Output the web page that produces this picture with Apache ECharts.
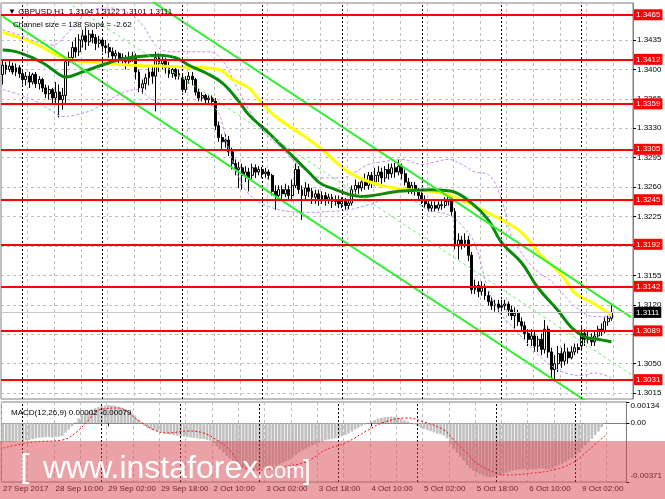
<!DOCTYPE html>
<html><head><meta charset="utf-8">
<script src="https://cdn.jsdelivr.net/npm/echarts@6/dist/echarts.min.js"></script>
<style>html,body{margin:0;padding:0;background:#fff}#c{width:665px;height:499px}</style>
</head><body><div id="c"></div>
<script>
// [open, close, low, high], hourly bars from 27 Sep 2017 18:00
const candles = [
[1.3394,1.3405,1.3382,1.3411],[1.3405,1.3400,1.3394,1.3409],[1.3400,1.3404,1.3397,1.3411],[1.3404,1.3397,1.3394,1.3408],
[1.3397,1.3402,1.3392,1.3407],[1.3402,1.3395,1.3390,1.3405],[1.3395,1.3388,1.3382,1.3400],[1.3388,1.3392,1.3381,1.3397],
[1.3392,1.3385,1.3378,1.3397],[1.3385,1.3394,1.3382,1.3396],[1.3394,1.3383,1.3378,1.3397],[1.3383,1.3388,1.3376,1.3392],
[1.3388,1.3378,1.3373,1.3390],[1.3378,1.3371,1.3366,1.3382],[1.3371,1.3376,1.3364,1.3381],[1.3376,1.3366,1.3360,1.3378],
[1.3366,1.3373,1.3358,1.3385],[1.3373,1.3364,1.3343,1.3382],[1.3364,1.3369,1.3352,1.3378],[1.3369,1.3409,1.3360,1.3414],
[1.3409,1.3414,1.3404,1.3421],[1.3414,1.3426,1.3409,1.3433],[1.3426,1.3421,1.3414,1.3438],[1.3421,1.3435,1.3416,1.3442],
[1.3435,1.3440,1.3426,1.3447],[1.3440,1.3433,1.3423,1.3450],[1.3433,1.3442,1.3428,1.3447],[1.3442,1.3438,1.3431,1.3447],
[1.3438,1.3431,1.3423,1.3442],[1.3431,1.3435,1.3426,1.3440],[1.3435,1.3428,1.3421,1.3438],[1.3428,1.3426,1.3419,1.3435],
[1.3426,1.3421,1.3414,1.3431],[1.3421,1.3416,1.3411,1.3426],[1.3416,1.3419,1.3409,1.3423],[1.3419,1.3411,1.3407,1.3421],
[1.3411,1.3414,1.3404,1.3419],[1.3414,1.3409,1.3400,1.3417],[1.3409,1.3414,1.3404,1.3421],[1.3414,1.3416,1.3409,1.3421],
[1.3416,1.3397,1.3388,1.3419],[1.3397,1.3378,1.3373,1.3400],[1.3378,1.3383,1.3371,1.3388],[1.3383,1.3390,1.3376,1.3395],
[1.3390,1.3397,1.3381,1.3402],[1.3397,1.3392,1.3383,1.3404],[1.3392,1.3414,1.3350,1.3421],[1.3414,1.3407,1.3397,1.3419],
[1.3407,1.3411,1.3400,1.3416],[1.3411,1.3402,1.3395,1.3414],[1.3402,1.3395,1.3390,1.3409],[1.3395,1.3400,1.3390,1.3404],
[1.3400,1.3392,1.3388,1.3402],[1.3392,1.3395,1.3388,1.3400],[1.3390,1.3376,1.3373,1.3394],[1.3376,1.3388,1.3372,1.3392],
[1.3388,1.3392,1.3383,1.3397],[1.3392,1.3388,1.3381,1.3397],[1.3388,1.3373,1.3369,1.3390],[1.3373,1.3366,1.3362,1.3378],
[1.3366,1.3369,1.3362,1.3373],[1.3369,1.3364,1.3359,1.3371],[1.3364,1.3366,1.3360,1.3370],[1.3366,1.3362,1.3357,1.3369],
[1.3362,1.3333,1.3328,1.3366],[1.3333,1.3319,1.3314,1.3338],[1.3319,1.3314,1.3305,1.3323],[1.3314,1.3316,1.3307,1.3323],
[1.3316,1.3302,1.3297,1.3321],[1.3302,1.3288,1.3281,1.3307],[1.3288,1.3281,1.3274,1.3293],[1.3281,1.3283,1.3259,1.3290],
[1.3283,1.3274,1.3257,1.3288],[1.3274,1.3278,1.3266,1.3285],[1.3278,1.3271,1.3255,1.3283],[1.3274,1.3283,1.3269,1.3288],
[1.3283,1.3278,1.3271,1.3287],[1.3278,1.3281,1.3274,1.3285],[1.3281,1.3276,1.3271,1.3284],[1.3276,1.3278,1.3271,1.3283],
[1.3278,1.3274,1.3269,1.3281],[1.3274,1.3255,1.3250,1.3276],[1.3255,1.3250,1.3233,1.3262],[1.3250,1.3257,1.3248,1.3262],
[1.3257,1.3252,1.3245,1.3262],[1.3252,1.3257,1.3248,1.3264],[1.3257,1.3250,1.3245,1.3262],[1.3250,1.3262,1.3243,1.3269],
[1.3262,1.3281,1.3259,1.3288],[1.3281,1.3257,1.3252,1.3285],[1.3257,1.3250,1.3221,1.3262],[1.3250,1.3259,1.3245,1.3266],
[1.3259,1.3255,1.3248,1.3264],[1.3255,1.3248,1.3240,1.3259],[1.3248,1.3252,1.3240,1.3257],[1.3252,1.3245,1.3238,1.3257],
[1.3245,1.3250,1.3240,1.3255],[1.3250,1.3245,1.3238,1.3254],[1.3245,1.3248,1.3240,1.3252],[1.3248,1.3243,1.3235,1.3252],
[1.3243,1.3245,1.3238,1.3250],[1.3245,1.3240,1.3235,1.3250],[1.3240,1.3243,1.3235,1.3248],[1.3243,1.3238,1.3233,1.3247],
[1.3238,1.3241,1.3234,1.3245],[1.3241,1.3257,1.3238,1.3262],[1.3257,1.3262,1.3252,1.3269],[1.3262,1.3259,1.3252,1.3266],
[1.3259,1.3266,1.3255,1.3271],[1.3266,1.3262,1.3257,1.3276],[1.3262,1.3274,1.3257,1.3278],[1.3274,1.3266,1.3259,1.3278],
[1.3266,1.3274,1.3262,1.3283],[1.3274,1.3278,1.3266,1.3285],[1.3278,1.3271,1.3264,1.3283],[1.3271,1.3281,1.3266,1.3285],
[1.3281,1.3276,1.3269,1.3288],[1.3276,1.3283,1.3271,1.3288],[1.3283,1.3278,1.3271,1.3289],[1.3278,1.3285,1.3274,1.3293],
[1.3285,1.3276,1.3269,1.3288],[1.3276,1.3266,1.3262,1.3281],[1.3266,1.3257,1.3252,1.3271],[1.3257,1.3262,1.3252,1.3266],
[1.3262,1.3255,1.3250,1.3266],[1.3255,1.3250,1.3245,1.3259],[1.3250,1.3245,1.3240,1.3255],[1.3245,1.3240,1.3235,1.3250],
[1.3240,1.3235,1.3231,1.3245],[1.3235,1.3238,1.3231,1.3243],[1.3238,1.3235,1.3231,1.3243],[1.3235,1.3239,1.3232,1.3243],
[1.3239,1.3238,1.3233,1.3245],[1.3238,1.3243,1.3235,1.3248],[1.3243,1.3248,1.3238,1.3252],[1.3248,1.3231,1.3226,1.3250],
[1.3231,1.3190,1.3186,1.3235],[1.3190,1.3197,1.3174,1.3205],[1.3197,1.3193,1.3186,1.3202],[1.3193,1.3197,1.3188,1.3205],
[1.3197,1.3179,1.3172,1.3202],[1.3179,1.3138,1.3133,1.3183],[1.3138,1.3143,1.3133,1.3150],[1.3143,1.3136,1.3129,1.3148],
[1.3136,1.3140,1.3131,1.3148],[1.3140,1.3131,1.3126,1.3145],[1.3131,1.3124,1.3119,1.3136],[1.3124,1.3119,1.3114,1.3129],
[1.3119,1.3121,1.3112,1.3126],[1.3121,1.3117,1.3110,1.3126],[1.3117,1.3119,1.3112,1.3126],[1.3119,1.3121,1.3114,1.3126],
[1.3121,1.3114,1.3107,1.3124],[1.3114,1.3107,1.3102,1.3119],[1.3107,1.3110,1.3091,1.3117],[1.3110,1.3100,1.3095,1.3114],
[1.3100,1.3095,1.3088,1.3105],[1.3095,1.3086,1.3079,1.3100],[1.3086,1.3079,1.3071,1.3091],[1.3079,1.3083,1.3071,1.3091],
[1.3083,1.3071,1.3064,1.3088],[1.3071,1.3079,1.3064,1.3083],[1.3079,1.3067,1.3060,1.3086],[1.3067,1.3091,1.3062,1.3102],
[1.3091,1.3064,1.3057,1.3095],[1.3064,1.3043,1.3033,1.3069],[1.3043,1.3050,1.3029,1.3060],[1.3050,1.3062,1.3040,1.3071],
[1.3062,1.3053,1.3045,1.3069],[1.3053,1.3064,1.3048,1.3074],[1.3064,1.3057,1.3050,1.3069],[1.3057,1.3064,1.3055,1.3071],
[1.3064,1.3069,1.3060,1.3074],[1.3069,1.3067,1.3062,1.3074],[1.3071,1.3086,1.3067,1.3095],[1.3086,1.3079,1.3071,1.3091],
[1.3079,1.3081,1.3074,1.3088],[1.3081,1.3076,1.3071,1.3086],[1.3076,1.3083,1.3071,1.3088],[1.3083,1.3091,1.3081,1.3095],
[1.3091,1.3088,1.3083,1.3098],[1.3088,1.3100,1.3086,1.3105],[1.3100,1.3104,1.3095,1.3107],[1.3104,1.3111,1.3101,1.3122]
];
// moving averages, sampled [bar, price]
const yellowMA = [[0,1.3444],[9,1.3432],[19,1.3413],[29,1.3408],[39,1.3405],[54,1.3403],[65,1.3400],[69,1.3388],[74,1.3378],
 [77,1.3364],[82,1.3344],[89,1.3325],[95,1.3308],[104,1.3278],[113,1.3263],[122,1.3257],[132,1.3253],[141,1.3239],[150,1.3221],
 [156,1.3206],[162,1.3178],[168,1.3156],[172,1.3134],[177,1.3123],[183,1.3108]];
const greenMA = [[0,1.3423],[5,1.3420],[12,1.3408],[17,1.3394],[19,1.3391],[24,1.3397],[32,1.3408],[38,1.3414],[47,1.3417],
 [52,1.3414],[56,1.3405],[61,1.3396],[66,1.3384],[71,1.3362],[74,1.3346],[79,1.3328],[85,1.3305],[92,1.3278],[95,1.3266],
 [98,1.3260],[108,1.3249],[119,1.3255],[129,1.3257],[135,1.3255],[141,1.3241],[146,1.3221],[150,1.3194],[156,1.3170],
 [161,1.3140],[167,1.3113],[171,1.3093],[175,1.3082],[179,1.3079],[183,1.3076]];
// bands (violet dashed), sampled [bar, price]
const upperBand = [[0,1.3447],[5,1.3441],[10,1.3433],[15,1.3429],[19,1.3441],[23,1.3459],[27,1.3471],[32,1.3473],[37,1.3469],
 [42,1.3453],[46,1.3429],[50,1.3421],[56,1.3421],[62,1.3421],[66,1.3411],[70,1.3382],[74,1.3352],[78,1.3328],[84,1.3305],
 [90,1.3283],[96,1.3271],[102,1.3271],[106,1.3278],[110,1.3287],[114,1.3290],[120,1.3293],[126,1.3287],[130,1.3290],
 [134,1.3293],[138,1.3287],[142,1.3278],[146,1.3275],[150,1.3245],[153,1.3201],[157,1.3176],[161,1.3159],[165,1.3148],
 [170,1.3126],[174,1.3112],[178,1.3106],[183,1.3106]];
const lowerBand = [[0,1.3376],[5,1.3370],[10,1.3362],[15,1.3350],[18,1.3344],[22,1.3346],[27,1.3352],[35,1.3370],[40,1.3376],
 [45,1.3364],[50,1.3358],[55,1.3358],[60,1.3358],[64,1.3354],[68,1.3305],[72,1.3263],[76,1.3245],[80,1.3237],[86,1.3231],
 [92,1.3230],[98,1.3231],[104,1.3233],[110,1.3239],[116,1.3245],[122,1.3245],[128,1.3233],[134,1.3227],[138,1.3215],
 [142,1.3192],[146,1.3138],[150,1.3108],[154,1.3091],[158,1.3073],[162,1.3057],[166,1.3045],[170,1.3038],[174,1.3036],
 [178,1.3039],[183,1.3033]];
// regression channel (Channel size = 138, Slope = -2.62), [bar, price] at the ends
const channelUpper = [[0,1.3598],[189,1.3105]];
const channelMiddle = [[0,1.3531],[189,1.3037]];
const channelLower = [[0,1.3463],[189,1.2970]];
const redLevels = [1.3465,1.3412,1.3359,1.3305,1.3245,1.3192,1.3142,1.3089,1.3031];
const currentPrice = 1.3111;
const priceTicks = [1.3015,1.3050,1.3085,1.3120,1.3155,1.3190,1.3225,1.3260,1.3295,1.3330,1.3365,1.3400,1.3435];
const xTickLabels = ['27 Sep 2017','28 Sep 10:00','29 Sep 02:00','29 Sep 18:00','2 Oct 10:00','3 Oct 02:00','3 Oct 18:00',
 '4 Oct 10:00','5 Oct 02:00','5 Oct 18:00','6 Oct 10:00','9 Oct 02:00'];
// MACD(12,26,9)
const macdHist = [
-0.00115,-0.00118,-0.00120,-0.00118,-0.00115,-0.00112,-0.00110,-0.00108,-0.00105,-0.00100,
-0.00095,-0.00092,-0.00090,-0.00088,-0.00088,-0.00090,-0.00088,-0.00085,-0.00080,-0.00060,
-0.00040,-0.00020,0.00005,0.00030,0.00050,0.00065,0.00078,0.00088,0.00095,0.00102,
0.00108,0.00112,0.00115,0.00113,0.00110,0.00105,0.00098,0.00090,0.00080,0.00068,
0.00050,0.00025,0.00005,-0.00015,-0.00030,-0.00040,-0.00045,-0.00048,-0.00055,-0.00062,
-0.00068,-0.00072,-0.00075,-0.00078,-0.00082,-0.00085,-0.00088,-0.00090,-0.00092,-0.00095,
-0.00098,-0.00100,-0.00105,-0.00110,-0.00125,-0.00145,-0.00165,-0.00185,-0.00205,-0.00225,
-0.00245,-0.00260,-0.00272,-0.00280,-0.00285,-0.00290,-0.00292,-0.00290,-0.00288,-0.00285,
-0.00282,-0.00280,-0.00275,-0.00268,-0.00260,-0.00250,-0.00240,-0.00230,-0.00215,-0.00200,
-0.00185,-0.00172,-0.00160,-0.00150,-0.00140,-0.00130,-0.00122,-0.00115,-0.00108,-0.00102,
-0.00098,-0.00095,-0.00090,-0.00082,-0.00075,-0.00065,-0.00052,-0.00040,-0.00028,-0.00018,
-0.00008,0.00002,0.00012,0.00020,0.00028,0.00033,0.00038,0.00040,0.00042,0.00040,
0.00036,0.00028,0.00018,0.00010,0.00002,-0.00008,-0.00018,-0.00028,-0.00035,-0.00042,
-0.00050,-0.00058,-0.00065,-0.00070,-0.00078,-0.00095,-0.00130,-0.00160,-0.00185,-0.00210,
-0.00235,-0.00265,-0.00285,-0.00300,-0.00312,-0.00322,-0.00330,-0.00336,-0.00340,-0.00340,
-0.00335,-0.00328,-0.00320,-0.00312,-0.00305,-0.00300,-0.00295,-0.00292,-0.00290,-0.00290,
-0.00292,-0.00290,-0.00290,-0.00285,-0.00285,-0.00290,-0.00292,-0.00285,-0.00275,-0.00265,
-0.00255,-0.00245,-0.00232,-0.00220,-0.00200,-0.00180,-0.00160,-0.00140,-0.00120,-0.00098,
-0.00075,-0.00052,-0.00025,0.00002];
const macdSignal = [[0,-0.00157],[9,-0.00119],[18,-0.00106],[22,-0.00062],[26,0.00020],[29,0.00083],[35,0.00096],[41,0.00020],
 [46,-0.00043],[50,-0.00062],[56,-0.00049],[61,-0.00062],[65,-0.00106],[69,-0.00169],[73,-0.00277],[78,-0.00296],[84,-0.00277],
 [92,-0.00245],[98,-0.00169],[104,-0.00125],[111,-0.00043],[116,0.00008],[123,0.00033],[128,0.00008],[134,-0.00043],
 [137,-0.00106],[141,-0.00188],[144,-0.00252],[150,-0.00315],[153,-0.00327],[161,-0.00315],[167,-0.00296],[173,-0.00252],
 [178,-0.00169],[183,-0.00079]];
const macdTicks = [-0.00371, 0, 0.00134];

// categories: hourly bars, weekends skipped
const MONTHS = ['Jan','Feb','Mar','Apr','May','Jun','Jul','Aug','Sep','Oct','Nov','Dec'];
const barTimes = [];
let t = Date.UTC(2017, 8, 27, 18);
while (barTimes.length < candles.length) {
  const d = new Date(t); const wd = d.getUTCDay();
  if (wd !== 0 && wd !== 6) barTimes.push(d);
  t += 3600000;
}
const pad = n => (n < 10 ? '0' : '') + n;
const categories = barTimes.map(d => d.getUTCDate() + ' ' + MONTHS[d.getUTCMonth()] + ' ' + pad(d.getUTCHours()) + ':00');
for (let k = 0; k < 6; k++) categories.push(' ' + k);
const dayStarts = barTimes.map((d, i) => d.getUTCHours() === 0 ? i : -1).filter(i => i >= 0);

const FONT = '"Liberation Sans", Arial, sans-serif';
const FS = 8;
const dashGrid = { color: '#c0c0c0', type: [3, 3], width: 1 };
const sepLines = dayStarts.map(i => ({ xAxis: categories[i], lineStyle: { color: '#000', type: [2, 2], width: 1 }, label: { show: false } }));

const levelLines = redLevels.map(v => ({
  yAxis: v, lineStyle: { color: '#ff0000', width: 2, type: 'solid' },
  label: { show: true, position: 'end', distance: 1, formatter: v.toFixed(4), color: '#fff', backgroundColor: '#ff0000',
           padding: [2, 2, 1, 2], fontSize: FS, fontFamily: FONT }
}));
levelLines.unshift({
  yAxis: currentPrice, lineStyle: { color: '#c8c8c8', width: 1, type: 'solid' },
  label: { show: true, position: 'end', distance: 1, formatter: currentPrice.toFixed(4), color: '#fff', backgroundColor: '#000',
           padding: [2, 2, 1, 2], fontSize: FS, fontFamily: FONT }
});

const chart = echarts.init(document.getElementById('c'));
chart.setOption({
  animation: false,
  backgroundColor: '#fff',
  textStyle: { fontFamily: FONT },
  title: [
    { text: '\u25BC GBPUSD,H1  1.3104 1.3122 1.3101 1.3111', left: 3, top: 3, textStyle: { fontSize: FS, fontWeight: 'normal', color: '#000', fontFamily: FONT } },
    { text: 'Channel size = 138 Slope = -2.62', left: 8, top: 16, textStyle: { fontSize: FS, fontWeight: 'normal', color: '#000', fontFamily: FONT } },
    { text: 'MACD(12,26,9) 0.00002 -0.00079', left: 6, top: 404, textStyle: { fontSize: FS, fontWeight: 'normal', color: '#000', fontFamily: FONT } }
  ],
  grid: [
    { left: 1, right: 32, top: 3, height: 396, show: true, borderColor: '#808080', borderWidth: 1, backgroundColor: 'transparent' },
    { left: 1, right: 32, top: 402, height: 80, show: true, borderColor: '#808080', borderWidth: 1 }
  ],
  xAxis: [
    { type: 'category', gridIndex: 0, data: categories, boundaryGap: true,
      axisLine: { show: false }, axisTick: { show: false }, axisLabel: { show: false },
      splitLine: { show: true, interval: (i) => i % 8 === 0, lineStyle: dashGrid } },
    { type: 'category', gridIndex: 1, data: categories, boundaryGap: true,
      axisLine: { show: true, lineStyle: { color: '#808080' } },
      axisTick: { show: true, alignWithLabel: true, interval: (i) => i % 16 === 0 && i <= 176, length: 3, lineStyle: { color: '#000' } },
      axisLabel: { show: true, interval: (i) => i % 16 === 0 && i <= 176, formatter: (v, i) => xTickLabels[i / 16] || '',
                   align: 'left', fontSize: FS, color: '#000', margin: 3, fontFamily: FONT },
      splitLine: { show: true, interval: (i) => i % 8 === 0, lineStyle: dashGrid } }
  ],
  yAxis: [
    { type: 'value', gridIndex: 0, position: 'right', min: 1.3008, max: 1.3479, scale: true,
      axisLine: { show: true, lineStyle: { color: '#808080' } },
      axisTick: { show: true, customValues: priceTicks, length: 3, lineStyle: { color: '#000' } },
      axisLabel: { show: true, customValues: priceTicks, formatter: v => v.toFixed(4), fontSize: FS, color: '#000', margin: 4, fontFamily: FONT },
      splitLine: { show: true, lineStyle: dashGrid } },
    { type: 'value', gridIndex: 1, position: 'right', min: -0.00371, max: 0.00134,
      axisLine: { show: true, lineStyle: { color: '#808080' } },
      axisTick: { show: true, customValues: macdTicks, length: 3, lineStyle: { color: '#000' } },
      axisLabel: { show: true, customValues: macdTicks, fontSize: FS, color: '#000', margin: 4, fontFamily: FONT,
                   formatter: v => v > 0.0001 ? '{t|0.00134}' : (v < -0.0001 ? '{b|-0.00371}' : '{m|0.00}'),
                   rich: { t: { padding: [8, 0, 0, 0], fontSize: FS, fontFamily: FONT }, b: { padding: [0, 0, 12, 0], fontSize: FS, fontFamily: FONT }, m: { fontSize: FS, fontFamily: FONT } } },
      splitLine: { show: true, lineStyle: dashGrid } }
  ],
  series: [
    { name: 'GBPUSD', type: 'candlestick', xAxisIndex: 0, yAxisIndex: 0, data: candles, barWidth: 2.4, z: 2,
      itemStyle: { color: '#ffffff', color0: '#000000', borderColor: '#000000', borderColor0: '#000000', borderWidth: 1 },
      markLine: { symbol: ['none', 'none'], precision: 4, silent: true, animation: false, data: sepLines.concat(levelLines) } },
    { name: 'upper band', type: 'line', xAxisIndex: 0, yAxisIndex: 0, data: upperBand, smooth: 0.4, symbol: 'none', z: 3,
      lineStyle: { color: '#c28ef0', width: 1, type: [3, 2] } },
    { name: 'lower band', type: 'line', xAxisIndex: 0, yAxisIndex: 0, data: lowerBand, smooth: 0.4, symbol: 'none', z: 3,
      lineStyle: { color: '#c28ef0', width: 1, type: [3, 2] } },
    { name: 'MA slow', type: 'line', xAxisIndex: 0, yAxisIndex: 0, data: yellowMA, smooth: 0.4, symbol: 'none', z: 4,
      lineStyle: { color: '#ffff00', width: 3 } },
    { name: 'MA fast', type: 'line', xAxisIndex: 0, yAxisIndex: 0, data: greenMA, smooth: 0.4, symbol: 'none', z: 4,
      lineStyle: { color: '#0a8a0a', width: 3 } },
    { name: 'channel upper', type: 'line', xAxisIndex: 0, yAxisIndex: 0, data: channelUpper, symbol: 'none', z: 4,
      lineStyle: { color: '#33ee33', width: 2 } },
    { name: 'channel middle', type: 'line', xAxisIndex: 0, yAxisIndex: 0, data: channelMiddle, symbol: 'none', z: 4,
      lineStyle: { color: '#66ee66', width: 1, type: [3, 3] } },
    { name: 'channel lower', type: 'line', xAxisIndex: 0, yAxisIndex: 0, data: channelLower, symbol: 'none', z: 4,
      lineStyle: { color: '#33ee33', width: 2 } },
    { name: 'MACD', type: 'bar', xAxisIndex: 1, yAxisIndex: 1, data: macdHist, barWidth: 2.6, z: 2,
      itemStyle: { color: '#c0c0c0' },
      markLine: { symbol: ['none', 'none'], silent: true, animation: false, data: sepLines } },
    { name: 'Signal', type: 'line', xAxisIndex: 1, yAxisIndex: 1, data: macdSignal, smooth: 0.4, symbol: 'none', z: 3,
      lineStyle: { color: '#ff0000', width: 1, type: [2, 2] } }
  ],
  graphic: [
    { type: 'rect', silent: true, z: 100, shape: { x: 0, y: 441, width: 665, height: 58 }, style: { fill: 'rgba(215,70,80,0.5)' } },
    { type: 'text', silent: true, z: 101, style: { text: '[', x: 20, y: 485, fill: '#ffffff', font: '34px "Liberation Sans"', textVerticalAlign: 'bottom' } },
    { type: 'text', silent: true, z: 101, style: { text: 'www.instaforex', x: 43, y: 485, fill: '#ffffff', font: '32px "Liberation Sans"', textVerticalAlign: 'bottom' } },
    { type: 'text', silent: true, z: 101, style: { text: '.com', x: 257, y: 483, fill: '#ffffff', font: '22px "Liberation Sans"', textVerticalAlign: 'bottom' } },
    { type: 'text', silent: true, z: 101, style: { text: ']', x: 303, y: 485, fill: '#ffffff', font: '28px "Liberation Sans"', textVerticalAlign: 'bottom' } }
  ]
});
</script>
</body></html>
